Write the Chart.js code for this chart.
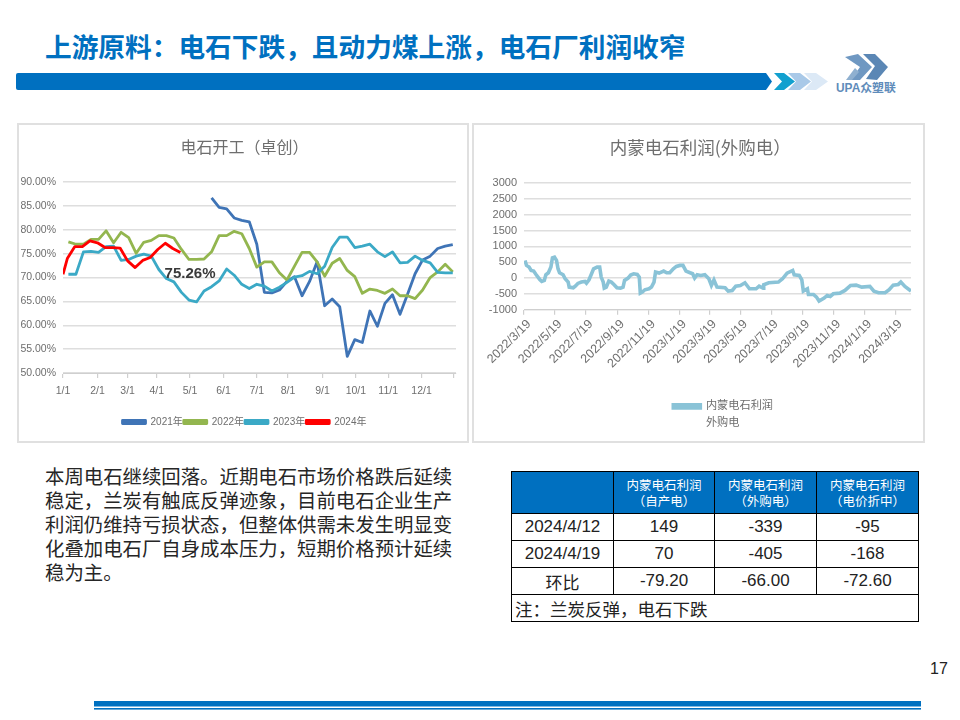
<!DOCTYPE html>
<html>
<head>
<meta charset="utf-8">
<title>上游原料</title>
<script src="https://cdn.jsdelivr.net/npm/chart.js@4"></script>
<style>
    html, body { margin: 0; padding: 0; background: #fff; }
    body { width: 960px; height: 720px; position: relative; overflow: hidden; font-family: "Noto Sans CJK SC", sans-serif; }
    .abs { position: absolute; }
    #heading { left: 45px; top: 27px; font-size: 26.7px; line-height: 38px; font-weight: 700; color: #0070c0; white-space: nowrap; }
    .panel { border: 2px solid #e0e0e0; box-sizing: border-box; height: 320px; top: 123px; }
    canvas { position: absolute; left: -2px; top: -2px; }
    #note { left: 45px; top: 464px; font-size: 19.4px; line-height: 24px; color: #262626; white-space: nowrap; }
    #pageNo { left: 930px; top: 660px; font: 16px "Liberation Sans", sans-serif; color: #222; }
    table { left: 511px; top: 471px; width: 407px; border-collapse: collapse; table-layout: fixed; color: #222; }
    td { border: 1px solid #000; text-align: center; padding: 0; font: 17px "Liberation Sans", "Noto Sans CJK SC", sans-serif; height: 26px; }
    tr.head td { background: #0070c0; color: #fff; font: 12.5px/16px "Noto Sans CJK SC", sans-serif; height: 41px; }
    td.remark { text-align: left; padding-left: 3px; font-family: "Noto Sans CJK SC", sans-serif; font-size: 17.5px; }
    td.cjk { font-family: "Noto Sans CJK SC", sans-serif; }
</style>
</head>
<body>
<div class="abs" id="heading">上游原料：电石下跌，且动力煤上涨，电石厂利润收窄</div>

<svg class="abs" style="left:0;top:0" width="960" height="110">
    <path d="M16 75 Q16 73 18 73 H766 L772 81.5 L766 90 H18 Q16 90 16 88 Z" fill="#0070c0"/>
    <polygon points="774,73 784,73 795,81.5 784,90 774,90 782,81.5" fill="#12a0cf"/>
    <polygon points="788,73 800,73 811,81.5 800,90 788,90 796,81.5" fill="#a9c9e8"/>
    <polygon points="804,73 816,73 828,81.5 816,90 804,90 812,81.5" fill="#dce9f6"/>
    <polygon points="845,57 858,54 872,67 860,80 851,80 860,67" fill="#6f98c2"/>
    <polygon points="863,54 875,54 888,67 877,80 866,79 875,66" fill="#5b87b5"/>
    <polygon points="846,80 855,68 859,72 852,80" fill="#8fb0d0"/>
    <text x="836" y="92" font-family="Liberation Sans, Noto Sans CJK SC" font-weight="700" font-size="11.9" fill="#5f8cba">UPA众塑联</text>
</svg>

<div class="abs panel" style="left:17px;width:452px"><canvas id="startChart" width="452" height="320"></canvas></div>
<div class="abs panel" style="left:472px;width:453px"><canvas id="profitChart" width="453" height="320"></canvas></div>

<div class="abs" id="note">本周电石继续回落。近期电石市场价格跌后延续<br>稳定，兰炭有触底反弹迹象，目前电石企业生产<br>利润仍维持亏损状态，但整体供需未发生明显变<br>化叠加电石厂自身成本压力，短期价格预计延续<br>稳为主。</div>

<table class="abs">
    <colgroup><col style="width:102px"><col style="width:101px"><col style="width:102px"><col style="width:102px"></colgroup>
    <tr class="head"><td></td><td>内蒙电石利润<br>（自产电）</td><td>内蒙电石利润<br>（外购电）</td><td>内蒙电石利润<br>（电价折中）</td></tr>
    <tr><td>2024/4/12</td><td>149</td><td>-339</td><td>-95</td></tr>
    <tr><td>2024/4/19</td><td>70</td><td>-405</td><td>-168</td></tr>
    <tr><td class="cjk">环比</td><td>-79.20</td><td>-66.00</td><td>-72.60</td></tr>
    <tr><td class="remark" colspan="4">注：兰炭反弹，电石下跌</td></tr>
</table>

<div class="abs" id="pageNo">17</div>
<svg class="abs" style="left:0;top:695px" width="960" height="20">
    <rect x="94" y="6" width="827" height="5.5" fill="#0070c0"/>
    <rect x="94" y="13" width="827" height="1.6" fill="#0070c0"/>
</svg>

<script>
// left chart, day of year on x
const monthTicks = [1, 33, 61, 88, 119, 150, 181, 210, 242, 273, 303, 334, 364];
const monthLabels = ['1/1', '2/1', '3/1', '4/1', '5/1', '6/1', '7/1', '8/1', '9/1', '10/1', '11/1', '12/1', ''];
const weekDays = [6, 13, 20, 27, 34, 41, 48, 55, 62, 69, 76, 83, 90, 97, 104, 111, 118, 125, 132, 139, 146, 153, 160, 167, 174, 181,
    188, 195, 202, 209, 216, 223, 230, 237, 244, 251, 258, 265, 272, 279, 286, 293, 300, 307, 314, 321, 328, 335, 342, 349, 356, 363];
const days2024 = [1, 5, 12, 19, 26, 33, 40, 47, 54, 61, 68, 75, 82, 89, 96, 103, 110];

const rate2021 = [null, null, null, null, null, null, null, null, null, null, null, null, null, null, null, null, null, null, null,
    86.7, 84.7, 84.4, 82.5, 82, 81.7, 77, 66.9, 66.8, 67.4, 69.2, 70.2, 66.2, 69.2, 73.3, 64.1, 65.5, 63.9, 53.5, 57, 56.4, 63,
    59.8, 64.6, 66.4, 62.3, 66.5, 70.8, 73.7, 74.5, 76.1, 76.6, 76.9];
const rate2022 = [77.5, 77, 77, 78, 78, 79.8, 77.3, 79.5, 78.4, 75.1, 77.4, 77.8, 78.8, 78.8, 78.3, 75.9, 73.8, 73.8, 73.9, 75.4,
    78.8, 78.8, 79.7, 79.2, 76.1, 72.2, 73.3, 73.3, 71, 69.5, 72.4, 75.3, 75.3, 73.3, 70.3, 73, 74, 71.5, 70.2, 66.7, 67.6, 67.3,
    66.7, 67.6, 66.2, 66.2, 65.6, 67.4, 70, 71.2, 72.8, 71.2];
const rate2023 = [70.7, 70.7, 75.4, 75.5, 75.3, 76.5, 76.6, 73.6, 73.8, 74.5, 74.9, 74.5, 71.7, 69.8, 69.1, 66.9, 65.3, 64.9, 67.2,
    68.1, 69.3, 71.8, 70.5, 68.6, 67.7, 68.6, 68.2, 67.2, 68, 69, 70.1, 70.4, 71.3, 70.8, 72.4, 76.3, 78.5, 78.5, 76.3, 76.6, 77,
    75.4, 74.4, 75.4, 73.1, 73.2, 74.5, 73.6, 73.1, 71.1, 71, 71];
const rate2024 = [70.7, 74, 76.5, 76.5, 77.7, 77.3, 76.3, 76.3, 76.2, 73.5, 72.1, 73.6, 74.2, 75.9, 77.2, 76.1, 75.26];

// right chart, days since 2022/3/19 on x
const profitTicks = [0, 61, 122, 184, 245, 306, 365, 426, 487, 549, 610, 671, 731];
const profitLabels = ['2022/3/19', '2022/5/19', '2022/7/19', '2022/9/19', '2022/11/19', '2023/1/19', '2023/3/19', '2023/5/19',
    '2023/7/19', '2023/9/19', '2023/11/19', '2024/1/19', '2024/3/19'];
const profitDays = [2, 5, 10, 14, 19, 24, 31, 35, 40, 43,
    48, 53, 56, 60, 64, 67, 70, 77, 81, 87,
    89, 97, 101, 106, 113, 120, 123, 128, 133, 137,
    144, 149, 152, 156, 158, 162, 167, 172, 177, 183,
    190, 195, 198, 205, 210, 216, 223, 227, 229, 233,
    238, 246, 251, 256, 259, 266, 275, 281, 287, 294,
    300, 307, 313, 319, 327, 332, 336, 341, 348, 356,
    364, 369, 374, 380, 396, 402, 410, 417, 426, 435,
    444, 457, 463, 471, 472, 482, 501, 509, 518, 529,
    532, 542, 547, 550, 558, 560, 570, 576, 581, 591,
    597, 603, 609, 622, 632, 643, 654, 665, 681, 689,
    698, 711, 719, 727, 737, 742, 750, 762];
const profitValues = [558, 400, 347, 242, 221, 105, -42, -105, -74, 105,
    168, 347, 642, 663, 558, 295, 168, 105, -21, -126,
    -284, -305, -253, -168, -126, -105, -158, -53, 137, 295,
    347, 347, 32, -126, -316, -284, -95, -126, -200, -305,
    -316, -284, -74, 0, 95, 137, 116, 32, -474, -442,
    -368, -337, -284, -126, 190, 158, 221, 168, 168, 295,
    368, 400, 400, 221, 168, 137, 0, 105, 84, 105,
    -21, -232, -60, -284, -305, -410, -390, -253, -232, -147,
    -337, -337, -253, -316, -210, -147, -126, -21, 158, 242,
    105, 84, -53, -410, -337, -516, -516, -600, -726, -632,
    -547, -579, -495, -474, -390, -232, -221, -284, -263, -410,
    -463, -463, -368, -221, -200, -126, -263, -405];

const sansFamily = '"Liberation Sans", "Noto Sans CJK SC", sans-serif';
const axisFont = { family: sansFamily, size: 10.5 };
const titleFont = { family: '"Noto Sans CJK SC", sans-serif', weight: 'normal' };
const textGray = '#6e6e6e';
const gridGray = '#dedede';

function pairs(xs, ys) {
    return xs.map((x, i) => ({ x: x, y: ys[i] }));
}

function lineSet(label, xs, ys, color, order) {
    return {
        label: label,
        data: pairs(xs, ys),
        borderColor: color,
        backgroundColor: color,
        borderWidth: 2.8,
        pointRadius: 0,
        order: order,
        borderJoinStyle: 'round'
    };
}

// the 75.26% text sits in the plot area next to the 2024 line
const lastValueLabel = {
    id: 'lastValueLabel',
    afterDatasetsDraw(chart) {
        const ctx = chart.ctx;
        const last = rate2024[rate2024.length - 1];
        ctx.save();
        ctx.font = 'bold 15px "Liberation Sans", sans-serif';
        ctx.fillStyle = '#3a3a3a';
        ctx.textAlign = 'center';
        ctx.textBaseline = 'middle';
        ctx.fillText(last.toFixed(2) + '%', chart.scales.x.getPixelForValue(119), chart.scales.y.getPixelForValue(70.7));
        ctx.restore();
    }
};

// nudge the legend sideways, and open its clip so a second text line shows
function legendShift(dx, extraBottom) {
    return {
        id: 'legendShift',
        afterLayout(chart) {
            chart.legend.left += dx;
            chart.legend.right += dx;
            chart.legend.bottom += extraBottom;
        }
    };
}

new Chart(document.getElementById('startChart'), {
    type: 'line',
    data: {
        datasets: [
            lineSet('2021年', weekDays, rate2021, '#3f74b6', 4),
            lineSet('2022年', weekDays, rate2022, '#93b64f', 3),
            lineSet('2023年', weekDays, rate2023, '#3ba9c6', 2),
            lineSet('2024年', days2024, rate2024, '#ff0000', 1)
        ]
    },
    plugins: [lastValueLabel, legendShift(8, 0)],
    options: {
        responsive: false,
        animation: false,
        layout: { padding: { right: 13, bottom: 6 } },
        plugins: {
            title: { display: true, text: '\u3000电石开工（卓创）', color: textGray, font: { ...titleFont, size: 16 }, padding: { top: 14, bottom: 26 } },
            legend: {
                position: 'bottom',
                labels: { boxWidth: 23, boxHeight: 3, padding: 1, color: textGray, font: { family: sansFamily, size: 10 }, sort: (a, b) => a.datasetIndex - b.datasetIndex }
            },
            tooltip: { enabled: false }
        },
        scales: {
            x: {
                type: 'linear', min: 1, max: 366,
                afterBuildTicks: axis => { axis.ticks = monthTicks.map(v => ({ value: v })); },
                afterFit: axis => { axis.height = 43; },
                ticks: { autoSkip: false, maxRotation: 0, color: textGray, font: axisFont, padding: 7, callback: v => monthLabels[monthTicks.indexOf(v)] },
                grid: { drawOnChartArea: false, color: '#cfcfcf', tickLength: 5, lineWidth: 1.2 },
                border: { color: '#cfcfcf' }
            },
            y: {
                min: 50, max: 90,
                afterFit: axis => { axis.width = 46; },
                ticks: { stepSize: 5, color: textGray, font: axisFont, padding: 7, callback: v => v.toFixed(2) + '%' },
                grid: { color: gridGray, lineWidth: 1.6, drawTicks: false, tickLength: 0 },
                border: { display: false }
            }
        }
    }
});

new Chart(document.getElementById('profitChart'), {
    type: 'line',
    data: {
        datasets: [{
            label: ['内蒙电石利润', '外购电'],
            data: pairs(profitDays, profitValues),
            borderColor: '#8ac3d7',
            backgroundColor: '#8ac3d7',
            borderWidth: 3.6,
            pointRadius: 0
        }]
    },
    plugins: [legendShift(50, 24)],
    options: {
        responsive: false,
        animation: false,
        layout: { padding: { right: 14, bottom: 21 } },
        plugins: {
            title: { display: true, text: '\u3000内蒙电石利润(外购电）', color: textGray, font: { ...titleFont, size: 17.5 }, padding: { top: 14, bottom: 25 } },
            legend: {
                position: 'bottom',
                labels: { boxWidth: 27, boxHeight: 3, padding: 4, color: textGray, font: { family: sansFamily, size: 11.2, lineHeight: 1.5 } }
            },
            tooltip: { enabled: false }
        },
        scales: {
            x: {
                type: 'linear', min: 0, max: 762,
                afterBuildTicks: axis => { axis.ticks = profitTicks.map(v => ({ value: v })); },
                afterFit: axis => { axis.height = 87; },
                ticks: { autoSkip: false, minRotation: 45, maxRotation: 45, labelOffset: 5, color: textGray, font: { family: sansFamily, size: 12.5 }, padding: 2, callback: v => profitLabels[profitTicks.indexOf(v)] },
                grid: { drawOnChartArea: false, color: '#cfcfcf', tickLength: 5, lineWidth: 1.2 },
                border: { color: '#cfcfcf' }
            },
            y: {
                min: -1000, max: 3000,
                afterFit: axis => { axis.width = 52; },
                ticks: { stepSize: 500, autoSkip: false, color: textGray, font: { family: sansFamily, size: 11 }, padding: 7, callback: v => String(v) },
                grid: { color: gridGray, lineWidth: 1.4, drawTicks: false, tickLength: 0 },
                border: { display: false }
            }
        }
    }
});
</script>
</body>
</html>
